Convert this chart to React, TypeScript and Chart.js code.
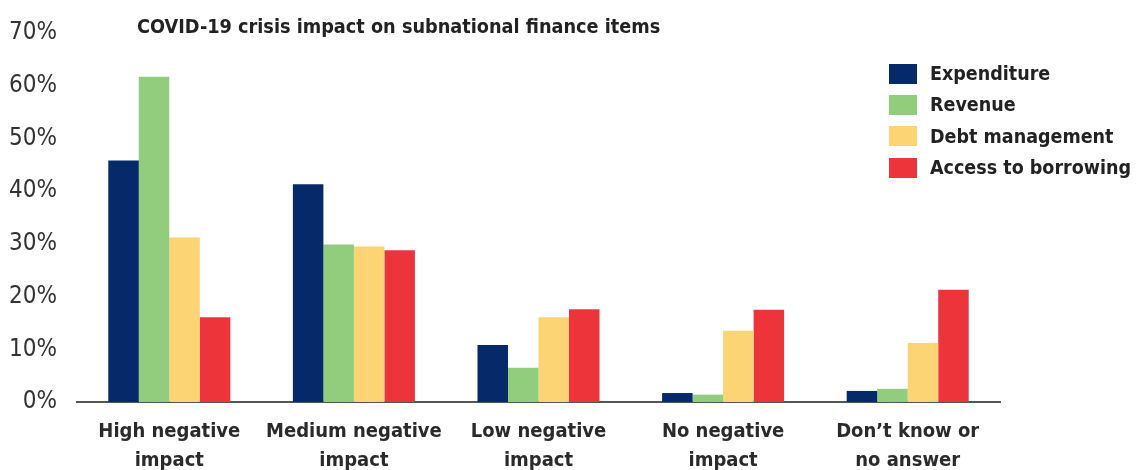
import React, { useEffect, useRef } from "react";
import { Chart, registerables } from "chart.js";

Chart.register(...registerables);

const categories: string[][] = [
  ["High negative", "impact"],
  ["Medium negative", "impact"],
  ["Low negative", "impact"],
  ["No negative", "impact"],
  ["Don\u2019t know or", "no answer"],
];
const seriesNames = ["Expenditure", "Revenue", "Debt management", "Access to borrowing"];
const expenditure = [45.8, 41.3, 10.8, 1.7, 2.1];
const revenue = [61.7, 29.9, 6.5, 1.4, 2.5];
const debtManagement = [31.2, 29.5, 16.1, 13.5, 11.2];
const accessToBorrowing = [16.1, 28.8, 17.6, 17.5, 21.3];
const seriesColors = ["#06296A", "#92CC7D", "#FDD473", "#EE343B"];
const yTicks = [0, 10, 20, 30, 40, 50, 60, 70];
const title = "COVID-19 crisis impact on subnational finance items";

const FONT = "'Liberation Sans Narrow', 'DejaVu Sans Condensed', 'Liberation Sans', sans-serif";

export default function App() {
  const ref = useRef<HTMLCanvasElement | null>(null);

  useEffect(() => {
    document.body.style.margin = "0";
    if (!ref.current) return;
    const values = [expenditure, revenue, debtManagement, accessToBorrowing];
    const titlePlugin = {
      id: "titleInArea",
      afterDraw(chart: any) {
        const ctx = chart.ctx;
        ctx.save();
        ctx.font = `bold 19.7px ${FONT}`;
        ctx.fillStyle = "#222";
        ctx.textBaseline = "middle";
        ctx.textAlign = "left";
        ctx.fillText(title, 137, 28);
        ctx.restore();
      },
    };
    const chart = new Chart(ref.current, {
      type: "bar",
      data: {
        labels: categories,
        datasets: seriesNames.map((name, i) => ({
          label: name,
          data: values[i],
          backgroundColor: seriesColors[i],
          borderWidth: 0,
          barPercentage: 1,
          categoryPercentage: 0.661,
        })),
      },
      options: {
        animation: false,
        responsive: false,
        maintainAspectRatio: false,
        layout: { padding: { left: 0, right: 136, top: 33, bottom: 0 } },
        plugins: {
          legend: { display: false },
          title: { display: false },
          tooltip: { enabled: false },
        },
        scales: {
          x: {
            z: 1,
            grid: { display: false },
            border: { display: true, color: "#555", width: 2 },
            ticks: {
              color: "#2a2a2a",
              font: { family: FONT, size: 20, weight: "bold", lineHeight: 1.45 },
              padding: 7,
              maxRotation: 0,
              autoSkip: false,
            },
            afterFit(scale: any) {
              scale.height = 68;
            },
          },
          y: {
            min: 0,
            max: 70,
            grid: { display: false },
            border: { display: false },
            afterBuildTicks(scale: any) {
              scale.ticks = yTicks.map((v) => ({ value: v }));
            },
            ticks: {
              color: "#333",
              font: { family: FONT, size: 24 },
              padding: 12,
              callback: (v: any) => `${v}%`,
            },
            afterFit(scale: any) {
              scale.width = 77;
            },
          },
        },
      },
      plugins: [titlePlugin],
    });
    return () => chart.destroy();
  }, []);

  return (
    <div style={{ position: "relative", width: 1136, height: 470, background: "#fff" }}>
      <canvas ref={ref} width={1136} height={470} style={{ display: "block" }} />
      <div style={{ position: "absolute", left: 889, top: 58 }}>
        {seriesNames.map((name, i) => (
          <div key={name} style={{ display: "flex", alignItems: "center", height: 31.3 }}>
            <div style={{ width: 28, height: 20, background: seriesColors[i], marginRight: 13 }} />
            <span style={{ font: `bold 19.5px ${FONT}`, color: "#222", whiteSpace: "nowrap" }}>{name}</span>
          </div>
        ))}
      </div>
    </div>
  );
}
